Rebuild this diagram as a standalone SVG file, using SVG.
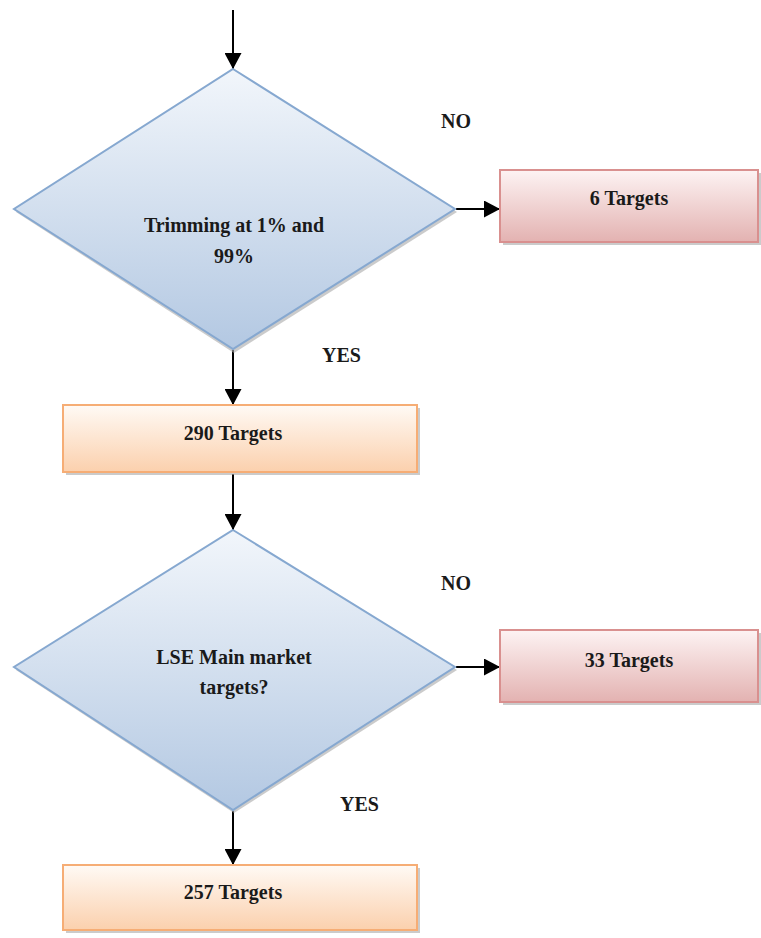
<svg xmlns="http://www.w3.org/2000/svg" width="761" height="938" viewBox="0 0 761 938">
<defs>
<linearGradient id="gBlue" x1="0" y1="0" x2="0" y2="1">
<stop offset="0" stop-color="#f2f6fb"/><stop offset="1" stop-color="#b3c8e2"/>
</linearGradient>
<linearGradient id="gRed" x1="0" y1="0" x2="0" y2="1">
<stop offset="0" stop-color="#fdf3f3"/><stop offset="1" stop-color="#e3b2b1"/>
</linearGradient>
<linearGradient id="gOrange" x1="0" y1="0" x2="0" y2="1">
<stop offset="0" stop-color="#fffaf5"/><stop offset="1" stop-color="#fbd0ad"/>
</linearGradient>
<marker id="arr" markerWidth="16" markerHeight="17" refX="16" refY="8.5" orient="auto" markerUnits="userSpaceOnUse" viewBox="0 0 16 17">
<path d="M0,0 L16,8.5 L0,17 z" fill="#000"/>
</marker>
</defs>
<style>
.dia{fill:url(#gBlue);stroke:#86a8d0;stroke-width:2}
.red{fill:url(#gRed);stroke:#d9908f;stroke-width:2}
.org{fill:url(#gOrange);stroke:#f6ad75;stroke-width:2}
.sh{fill:#a9a9a9;opacity:0.6}
.t{font-family:"Liberation Serif","Times New Roman",serif;font-weight:bold;font-size:20px;fill:#1a1a1a;text-anchor:middle}
.lab{font-family:"Liberation Serif","Times New Roman",serif;font-weight:bold;font-size:20px;fill:#1a1a1a}
.c{stroke:#000;stroke-width:2;fill:none;marker-end:url(#arr)}
</style>
<g id="connectors">
<line class="c" x1="233" y1="10" x2="233" y2="69"/>
<line class="c" x1="456" y1="209" x2="500" y2="209"/>
<line class="c" x1="233" y1="350" x2="233" y2="405"/>
<line class="c" x1="233" y1="474" x2="233" y2="530"/>
<line class="c" x1="456" y1="667" x2="500" y2="667"/>
<line class="c" x1="233" y1="811" x2="233" y2="865"/>
</g>
<g id="d1">
<polygon class="sh" points="234,72 457,212 234,353 16,212"/>
<polygon class="dia" points="233,69 455,209 233,349 14,209"/>
<text class="t" x="234" y="232">Trimming at 1% and</text>
<text class="t" x="234" y="263">99%</text>
</g>
<g id="lab-no1"><text class="lab" x="441" y="128">NO</text></g>
<g id="r1">
<rect class="sh" x="503" y="173" width="258" height="72"/>
<rect class="red" x="500" y="170" width="258" height="72"/>
<text class="t" x="629" y="205">6 Targets</text>
</g>
<g id="lab-yes1"><text class="lab" x="322" y="362">YES</text></g>
<g id="b290">
<rect class="sh" x="66" y="408" width="354" height="67"/>
<rect class="org" x="63" y="405" width="354" height="67"/>
<text class="t" x="233" y="440">290 Targets</text>
</g>
<g id="d2">
<polygon class="sh" points="234,533 457,670 234,813 16,670"/>
<polygon class="dia" points="233,530 455,667 233,810 14,667"/>
<text class="t" x="234" y="664">LSE Main market</text>
<text class="t" x="234" y="694">targets?</text>
</g>
<g id="lab-no2"><text class="lab" x="441" y="590">NO</text></g>
<g id="r2">
<rect class="sh" x="503" y="633" width="258" height="72"/>
<rect class="red" x="500" y="630" width="258" height="72"/>
<text class="t" x="629" y="667">33 Targets</text>
</g>
<g id="lab-yes2"><text class="lab" x="340" y="811">YES</text></g>
<g id="b257">
<rect class="sh" x="66" y="868" width="354" height="65"/>
<rect class="org" x="63" y="865" width="354" height="65"/>
<text class="t" x="233" y="899">257 Targets</text>
</g>
</svg>
